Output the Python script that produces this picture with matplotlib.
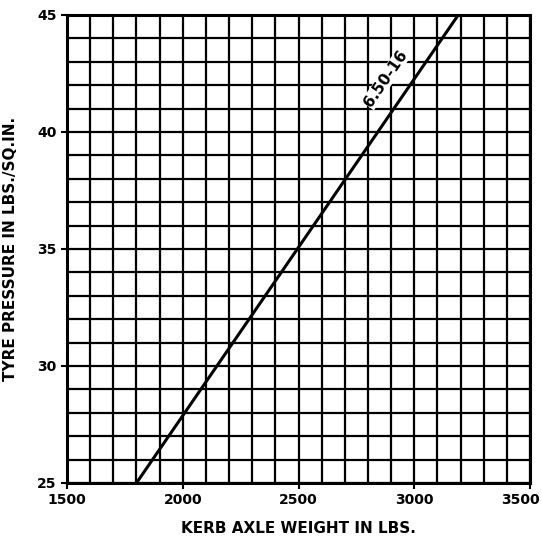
import numpy as np
import matplotlib.pyplot as plt
import matplotlib.transforms as mtransforms

# line for the 6.50-16 tyre
weight = [1800, 3190]
pressure = [25, 45]
label = "6.50-16"

xticks = [1500, 2000, 2500, 3000, 3500]
yticks = [25, 30, 35, 40, 45]

fig = plt.figure(figsize=(5.42, 5.45), dpi=100)
ax = fig.add_axes([67/542, 62/545, 463/542, 468/545])

ax.set_xlim(1500, 3500)
ax.set_ylim(25, 45)

# grid every 100 lbs and every 1 psi
for x in np.arange(1500, 3501, 100):
    ax.axvline(x, color='black', lw=1.6, zorder=1)
for y in np.arange(25, 45.1, 1):
    ax.axhline(y, color='black', lw=1.6, zorder=1)

ax.plot(weight, pressure, color='black', lw=2.2, zorder=3)

# text along the line
p1 = ax.transData.transform((weight[0], pressure[0]))
p2 = ax.transData.transform((weight[1], pressure[1]))
ang = np.degrees(np.arctan2(p2[1] - p1[1], p2[0] - p1[0]))
ax.text(2905, 42.1, label, rotation=ang, rotation_mode='anchor',
        ha='center', va='bottom', fontsize=11, fontweight='bold',
        zorder=4, bbox=dict(facecolor='white', edgecolor='none', pad=0.3))

ax.set_xticks(xticks)
ax.set_yticks(yticks)
ax.tick_params(direction='out', length=4, width=1.5, labelsize=10)
for t in ax.get_xticklabels() + ax.get_yticklabels():
    t.set_fontweight('bold')
# pull the last x label in so it stays on the page
last = ax.get_xticklabels()[-1]
last.set_transform(last.get_transform() +
                   mtransforms.ScaledTranslation(-10/100, 0, fig.dpi_scale_trans))
for s in ax.spines.values():
    s.set_linewidth(2.2)

ax.set_xlabel('KERB AXLE WEIGHT IN LBS.', fontsize=11, fontweight='bold', labelpad=10)
ax.set_ylabel('TYRE PRESSURE IN LBS./SQ.IN.', fontsize=11, fontweight='bold', labelpad=14)

plt.savefig('out.png', dpi=100)
